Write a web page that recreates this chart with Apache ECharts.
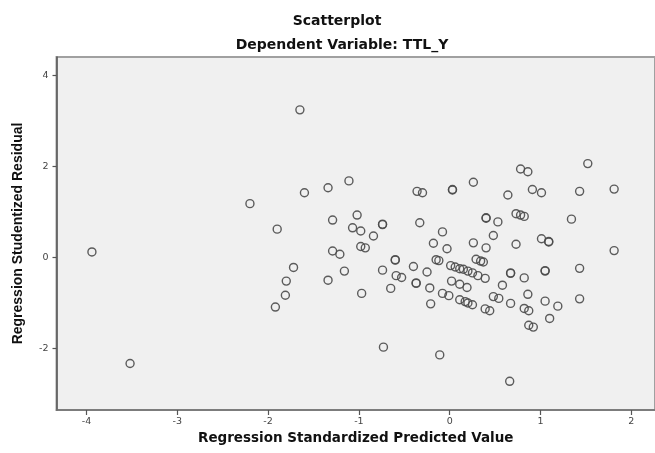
<!DOCTYPE html>
<html>
<head>
<meta charset="utf-8">
<script src="https://cdn.jsdelivr.net/npm/echarts@6/dist/echarts.min.js"></script>
<style>
html,body{margin:0;padding:0;background:#fff;}
#c{width:655px;height:453px;}
</style>
</head>
<body>
<div id="c"></div>
<script>
var titleText = "Scatterplot";
var subtitleText = "Dependent Variable: TTL_Y";
var xName = "Regression Standardized Predicted Value";
var yName = "Regression Studentized Residual";
var xTicks = [-4, -3, -2, -1, 0, 1, 2];
var yTicks = [-2, 0, 2, 4];

// predicted values (x) and studentized residuals (y)
var predicted = [
  -3.94, -3.52, -2.20, -1.90, -1.65, -1.60, -1.34, -1.11, -1.29, -1.02,
  -1.07, -0.98, -0.74, -0.74, -0.84, -0.36, -0.30, -0.33, -0.08, 0.03,
  0.03, 0.26, 0.64, 0.78, 0.86, 0.91, 1.01, 1.43, 1.52, 1.81,
  0.40, 0.40, 0.53, 0.73, 0.78, 0.82, 1.34, 0.48, 1.01, 1.09,
  1.09, 1.81, -0.18, -0.03, 0.26, 0.40, 0.73, -1.29, -1.21, -0.98,
  -0.93, -0.60, -0.60, -0.15, -0.12, -1.72, -1.16, -0.74, -0.40, -0.25,
  -0.59, -0.53, -1.80, -1.34, -0.37, -0.37, -0.65, -0.22, -1.81, -0.97,
  -1.92, -0.21, -0.73, -0.11, 0.01, 0.06, 0.11, 0.15, 0.20, 0.25,
  0.31, 0.39, 0.29, 0.34, 0.37, 0.67, 0.67, 0.82, 1.05, 1.05,
  1.43, 0.02, 0.11, 0.19, 0.58, -0.08, -0.01, 0.11, 0.17, 0.20,
  0.25, 0.48, 0.54, 0.39, 0.44, 0.67, 0.86, 0.82, 0.87, 1.05,
  1.19, 1.43, 1.10, 0.87, 0.92, 0.66
];
var residuals = [
  0.12, -2.33, 1.18, 0.62, 3.24, 1.42, 1.53, 1.68, 0.82, 0.93,
  0.65, 0.58, 0.73, 0.72, 0.47, 1.45, 1.42, 0.76, 0.56, 1.49,
  1.48, 1.65, 1.37, 1.94, 1.88, 1.49, 1.42, 1.45, 2.06, 1.50,
  0.87, 0.86, 0.78, 0.96, 0.93, 0.90, 0.84, 0.48, 0.41, 0.35,
  0.34, 0.15, 0.31, 0.19, 0.32, 0.21, 0.29, 0.14, 0.07, 0.24,
  0.21, -0.05, -0.06, -0.05, -0.07, -0.22, -0.30, -0.28, -0.20, -0.32,
  -0.40, -0.44, -0.52, -0.50, -0.56, -0.57, -0.68, -0.67, -0.83, -0.79,
  -1.09, -1.02, -1.97, -2.14, -0.18, -0.21, -0.25, -0.26, -0.30, -0.34,
  -0.40, -0.46, -0.04, -0.08, -0.10, -0.34, -0.35, -0.45, -0.29, -0.30,
  -0.24, -0.52, -0.59, -0.66, -0.61, -0.79, -0.84, -0.93, -0.97, -1.00,
  -1.04, -0.86, -0.90, -1.13, -1.17, -1.01, -0.81, -1.12, -1.17, -0.96,
  -1.07, -0.91, -1.34, -1.49, -1.53, -2.72
];

var points = predicted.map(function (x, i) { return [x, residuals[i]]; });

var chart = echarts.init(document.getElementById('c'), null, {renderer: 'canvas'});
var wide = 'DejaVu Sans, Verdana, sans-serif';
var font = 'Liberation Sans, Arial, sans-serif';
chart.setOption({
  backgroundColor: '#ffffff',
  animation: false,
  title: [
    {text: titleText, left: 332, top: 9, textAlign: 'center',
     textStyle: {fontFamily: wide, fontSize: 14, fontWeight: 'bold', color: '#111'}},
    {text: subtitleText, left: 337, top: 33, textAlign: 'center',
     textStyle: {fontFamily: wide, fontSize: 14, fontWeight: 'bold', color: '#111'}}
  ],
  grid: {
    left: 56.5, top: 57, right: 0, bottom: 43,
    show: true, backgroundColor: '#f0f0f0',
    borderColor: '#a0a0a0', borderWidth: 2,
    containLabel: false, outerBoundsMode: 'none'
  },
  xAxis: {
    type: 'value', min: -4.33, max: 2.26,
    name: xName, nameLocation: 'middle', nameGap: 21,
    nameTextStyle: {fontFamily: wide, fontSize: 13.5, fontWeight: 'bold', color: '#111'},
    axisLine: {show: true, onZero: false, lineStyle: {color: '#707070', width: 1.5}},
    axisTick: {show: true, length: 5, customValues: xTicks, lineStyle: {color: '#555', width: 1.2}},
    axisLabel: {customValues: xTicks, fontFamily: wide, fontSize: 9.5, color: '#444', margin: 7},
    splitLine: {show: false}
  },
  yAxis: {
    type: 'value', min: -3.35, max: 4.4,
    name: yName, nameLocation: 'middle', nameGap: 31, nameRotate: 90,
    nameTextStyle: {fontFamily: font, fontSize: 14, fontWeight: 'bold', color: '#111'},
    axisLine: {show: true, onZero: false, lineStyle: {color: '#555', width: 1.5}},
    axisTick: {show: true, length: 4, customValues: yTicks, lineStyle: {color: '#555', width: 1.2}},
    axisLabel: {customValues: yTicks, fontFamily: wide, fontSize: 9.5, color: '#444', margin: 8},
    splitLine: {show: false}
  },
  series: [{
    type: 'scatter',
    symbol: 'circle',
    symbolSize: 8,
    data: points,
    itemStyle: {color: 'rgba(240,240,240,0)', borderColor: '#4a4a4a', borderWidth: 1.4, opacity: 0.9}
  }]
});
</script>
</body>
</html>
